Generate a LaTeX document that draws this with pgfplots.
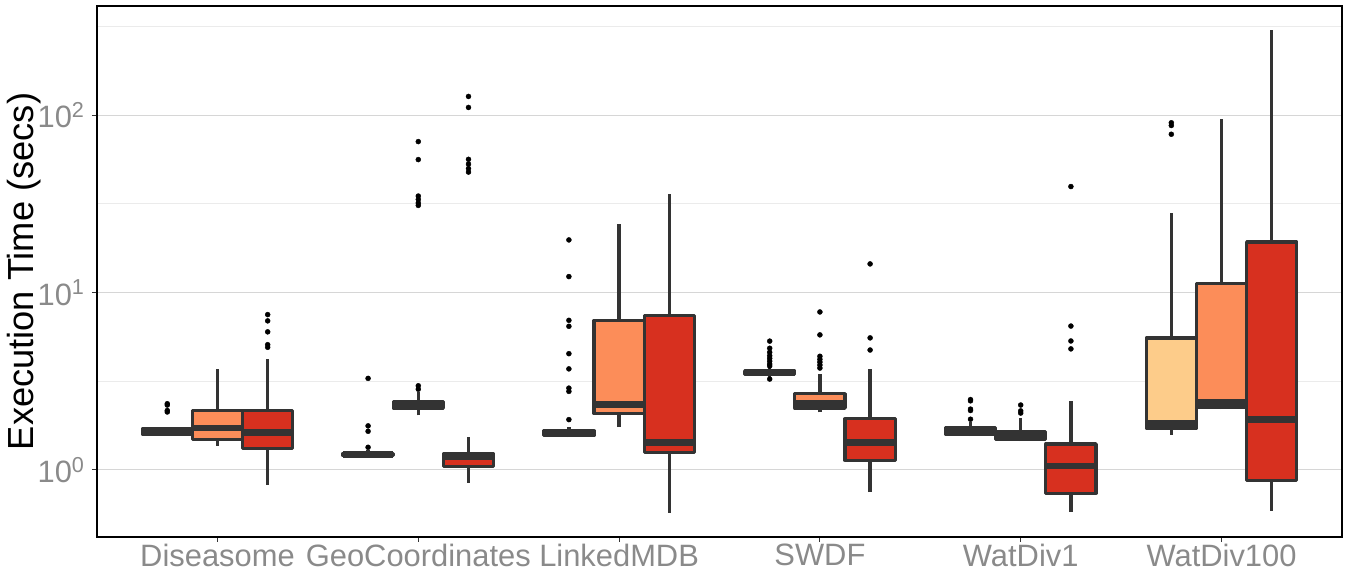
\documentclass[border=0pt]{standalone}
\usepackage{pgfplots}
\pgfplotsset{compat=1.18}
\usepackage{fontspec}
\setmainfont{Liberation Sans}
\definecolor{cY}{HTML}{FDCC8A}
\definecolor{cO}{HTML}{FC8D59}
\definecolor{cR}{HTML}{D7301F}
\definecolor{dk}{HTML}{333333}
\definecolor{tk}{HTML}{8A8A8A}
% #1 position, #2 fill, #3 lower whisker, #4 lower quartile, #5 median, #6 upper quartile, #7 upper whisker
\newcommand{\ggbox}[7]{%
  \pgfmathsetmacro\xl{#1-0.125}\pgfmathsetmacro\xr{#1+0.125}%
  \addplot[draw=dk, line width=1.65bp, forget plot] coordinates {(#1,#3) (#1,#4)};
  \addplot[draw=dk, line width=1.65bp, forget plot] coordinates {(#1,#6) (#1,#7)};
  \addplot[draw=dk, fill=#2, line width=1.65bp, line join=round, forget plot] coordinates {(\xl,#4) (\xr,#4) (\xr,#6) (\xl,#6)} -- cycle;
  \addplot[draw=dk, line width=3.3bp, forget plot] coordinates {(\xl,#5) (\xr,#5)};
}
\pgfplotsset{outl/.style={only marks, mark=*, mark size=1.25bp, mark options={draw=black, fill=black, line width=0.2bp}, forget plot}}
\begin{document}
\begin{tikzpicture}
\begin{axis}[
  at={(0,0)}, anchor=south west,
  scale only axis, width=622.5bp, height=265.5bp,
  xmin=0.4, xmax=6.6, ymode=log, ymin=0.418, ymax=413,
  xtick={1,2,3,4,5,6},
  xticklabels={Diseasome,GeoCoordinates,LinkedMDB,SWDF,WatDiv1,WatDiv100},
  ytick={1,10,100},
  yticklabels={10\textsuperscript{0},10\textsuperscript{1},10\textsuperscript{2}},
  minor ytick={3.1623,31.623,316.23},
  ymajorgrids, yminorgrids,
  major grid style={draw=black!16, line width=0.6bp},
  minor grid style={draw=black!8, line width=0.5bp},
  tick align=outside, xtick pos=left, ytick pos=left,
  major tick length=2.5bp, minor tick length=0pt,
  tick style={draw=dk, line width=0.5bp},
  axis line style={draw=black, line width=0.6bp},
  tick label style={font=\fontsize{15.5}{17}\selectfont, text=tk},
  xticklabel style={yshift=2.5bp},
  ylabel={Execution Time (secs)},
  ylabel style={at={(axis description cs:-0.0393,0.5)}, anchor=south, font=\fontsize{18.2}{20}\selectfont, text=black},
]
% Diseasome
\ggbox{0.75}{cY}{1.56}{1.59}{1.64}{1.70}{1.72}
\addplot[outl] coordinates {(0.75,2.36) (0.75,2.32) (0.75,2.16) (0.75,2.12)};
\ggbox{1}{cO}{1.37}{1.48}{1.72}{2.16}{3.72}
\ggbox{1.25}{cR}{0.823}{1.32}{1.62}{2.16}{4.22}
\addplot[outl] coordinates {(1.25,7.51) (1.25,6.92) (1.25,6.0) (1.25,5.08) (1.25,4.91)};
% GeoCoordinates
\ggbox{1.75}{cY}{1.18}{1.20}{1.22}{1.24}{1.30}
\addplot[outl] coordinates {(1.75,3.28) (1.75,1.77) (1.75,1.65) (1.75,1.34)};
\ggbox{2}{cO}{2.03}{2.23}{2.33}{2.43}{2.75}
\addplot[outl] coordinates {(2,2.98) (2,2.85) (2,71.0) (2,56.2) (2,35.0) (2,33.5) (2,32.0) (2,31.0)};
\ggbox{2.25}{cR}{0.848}{1.044}{1.18}{1.226}{1.53}
\addplot[outl] coordinates {(2.25,127.6) (2.25,110.6) (2.25,56.4) (2.25,53.0) (2.25,50.0) (2.25,47.8)};
% LinkedMDB
\ggbox{2.75}{cY}{1.53}{1.56}{1.61}{1.66}{1.75}
\addplot[outl] coordinates {(2.75,1.92) (2.75,2.77) (2.75,2.89) (2.75,3.71) (2.75,4.52) (2.75,6.45) (2.75,6.97) (2.75,12.3) (2.75,19.8)};
\ggbox{3}{cO}{1.74}{2.08}{2.33}{6.95}{24.4}
\ggbox{3.25}{cR}{0.574}{1.257}{1.43}{7.45}{35.8}
% SWDF
\ggbox{3.75}{cY}{3.35}{3.44}{3.52}{3.61}{3.75}
\addplot[outl] coordinates {(3.75,3.25) (3.75,3.85) (3.75,3.95) (3.75,4.1) (3.75,4.25) (3.75,4.4) (3.75,4.6) (3.75,4.85) (3.75,5.32)};
\ggbox{4}{cO}{2.11}{2.23}{2.36}{2.69}{3.49}
\addplot[outl] coordinates {(4,3.75) (4,3.9) (4,4.05) (4,4.2) (4,4.37) (4,5.77) (4,7.77)};
\ggbox{4.25}{cR}{0.748}{1.13}{1.43}{1.94}{3.71}
\addplot[outl] coordinates {(4.25,4.74) (4.25,5.55) (4.25,14.5)};
% WatDiv1
\ggbox{4.75}{cY}{1.55}{1.59}{1.66}{1.74}{1.85}
\addplot[outl] coordinates {(4.75,1.93) (4.75,2.16) (4.75,2.2) (4.75,2.45) (4.75,2.49)};
\ggbox{5}{cO}{1.45}{1.48}{1.56}{1.65}{1.96}
\addplot[outl] coordinates {(5,2.09) (5,2.15) (5,2.32)};
\ggbox{5.25}{cR}{0.58}{0.738}{1.05}{1.40}{2.46}
\addplot[outl] coordinates {(5.25,4.81) (5.25,5.33) (5.25,6.47) (5.25,39.6)};
% WatDiv100
\ggbox{5.75}{cY}{1.58}{1.72}{1.82}{5.55}{28.2}
\addplot[outl] coordinates {(5.75,78.1) (5.75,87.5) (5.75,90.7)};
\ggbox{6}{cO}{2.2}{2.26}{2.41}{11.2}{95.8}
\ggbox{6.25}{cR}{0.589}{0.867}{1.93}{19.3}{303}
\end{axis}
\pgfresetboundingbox
\path (-48.5bp,-21bp) rectangle (625bp,268.5bp);
\end{tikzpicture}
\end{document}
